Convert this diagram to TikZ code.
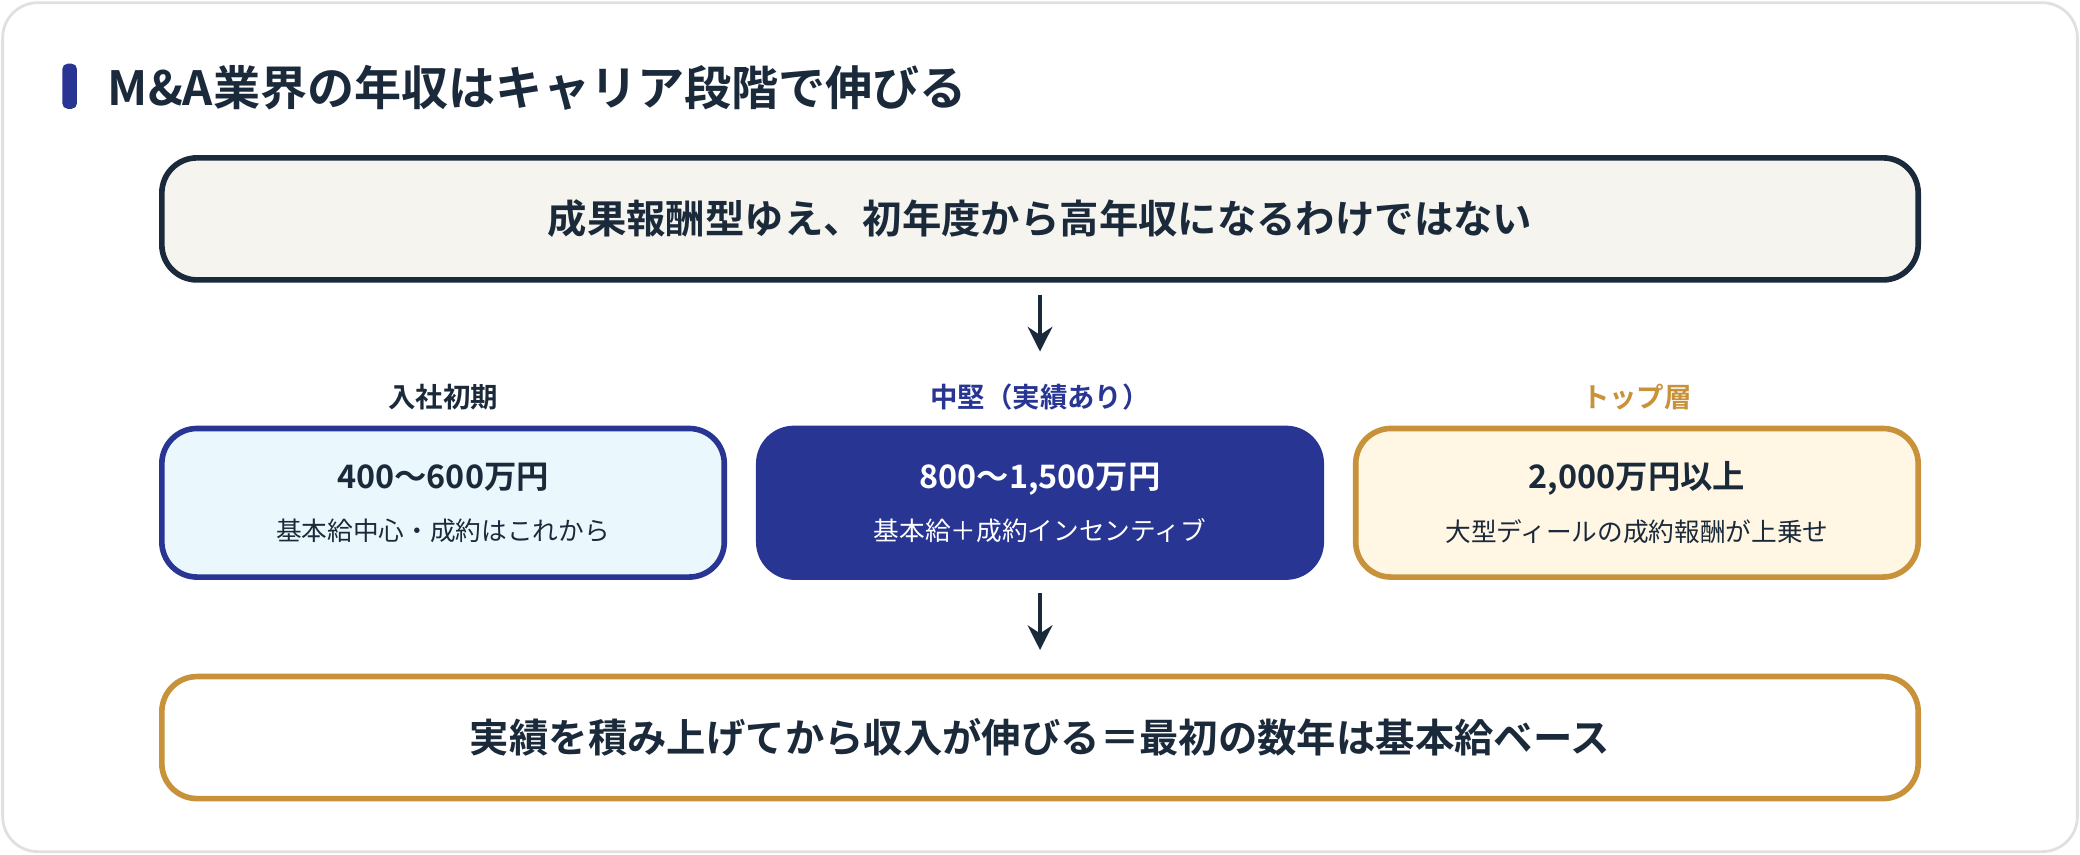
\documentclass[tikz,border=0pt]{standalone}
\usepackage{fontspec}
\setmainfont{Noto Sans CJK JP}
\newfontfamily\cjkb{Noto Sans CJK JP Bold}
\usepackage{xcolor}
\usetikzlibrary{arrows.meta, positioning}
\definecolor{navy}{HTML}{1B2A3A}
\definecolor{indigo}{HTML}{283593}
\definecolor{gold}{HTML}{C8923A}
\definecolor{paper}{HTML}{F5F4EE}
\definecolor{ice}{HTML}{EAF7FC}
\definecolor{cream}{HTML}{FFF6E3}

\begin{document}
\begin{tikzpicture}[
    x=0.013265cm, y=-0.013265cm,
    box/.style={rounded corners=10pt, line width=1.6pt, minimum width=1324*0.013265cm, minimum height=92*0.013265cm, font=\cjkb\fontsize{11.2}{13}\selectfont, text=navy},
    stage/.style={rounded corners=10pt, line width=1.6pt, minimum width=424*0.013265cm, minimum height=112*0.013265cm, align=center},
    head/.style={font=\cjkb\fontsize{7.8}{9}\selectfont},
    flow/.style={-{Stealth[length=7pt,width=7pt]}, line width=1.4pt, draw=navy}
]
\useasboundingbox (0,0) rectangle (1568,644);
\draw[rounded corners=10pt, draw=black!12, fill=white, line width=0.8pt] (2,2) rectangle (1566,642);

% Title
\fill[indigo, rounded corners=1.5pt] (47,48) rectangle (58,82);
\node[anchor=west, text=navy, font=\cjkb\fontsize{13.4}{15}\selectfont] (title) at (72,66) {M\&A業界の年収はキャリア段階で伸びる};

% Top and bottom
\node[box, draw=navy, fill=paper] (top) at (784,165) {成果報酬型ゆえ、初年度から高年収になるわけではない};
\node[box, draw=gold, fill=white] (bottom) at (784,556) {実績を積み上げてから収入が伸びる＝最初の数年は基本給ベース};

% Stages
\node[stage, draw=indigo, fill=ice, text=navy] (early) at (334,379) {{\cjkb\fontsize{9.2}{11}\selectfont 400〜600万円}\\[3pt]{\fontsize{7.3}{9}\selectfont 基本給中心・成約はこれから}};
\node[stage, draw=indigo, fill=indigo, text=white] (mid) at (784,379) {{\cjkb\fontsize{9.2}{11}\selectfont 800〜1,500万円}\\[3pt]{\fontsize{7.3}{9}\selectfont 基本給＋成約インセンティブ}};
\node[stage, draw=gold, fill=cream, text=navy] (topl) at (1234,379) {{\cjkb\fontsize{9.2}{11}\selectfont 2,000万円以上}\\[3pt]{\fontsize{7.3}{9}\selectfont 大型ディールの成約報酬が上乗せ}};

\node[head, text=navy] (h1) at (334,299) {入社初期};
\node[head, text=indigo] (h2) at (784,299) {中堅（実績あり）};
\node[head, text=gold] (h3) at (1234,299) {トップ層};

% Arrows
\coordinate (a1) at (784,222);
\coordinate (a2) at (784,265);
\coordinate (b1) at (784,447);
\coordinate (b2) at (784,490);
\draw[flow] (a1) -- (a2);
\draw[flow] (b1) -- (b2);
\end{tikzpicture}
\end{document}
